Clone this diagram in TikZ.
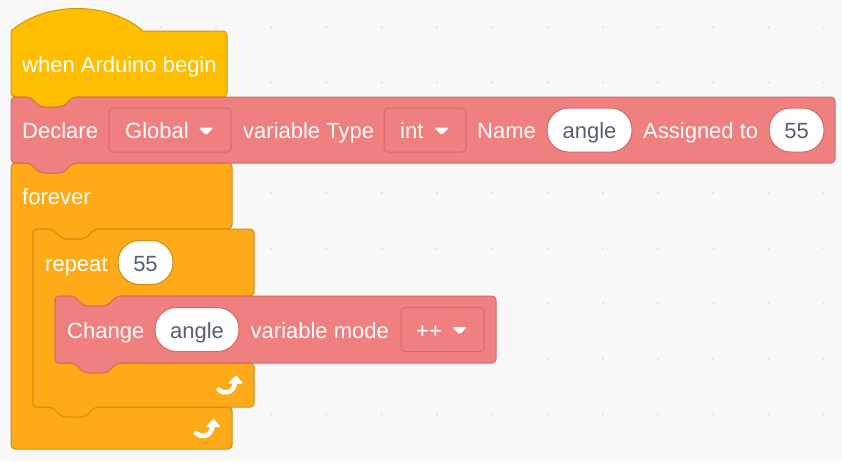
\documentclass[tikz,border=0pt]{standalone}
\usepackage{fontspec}
\setmainfont{Liberation Sans}
\definecolor{canvas}{HTML}{F9F9F9}
\definecolor{gridot}{HTML}{DADADA}
\definecolor{hatfill}{HTML}{FFBF00}
\definecolor{hatline}{HTML}{CC9900}
\definecolor{varfill}{HTML}{F08080}
\definecolor{varline}{HTML}{CC6B6B}
\definecolor{ctrlfill}{HTML}{FFAB19}
\definecolor{ctrlline}{HTML}{CF8B17}
\definecolor{valtext}{HTML}{575E75}
\newcommand{\blockfont}{\fontsize{22}{26}\selectfont}

\begin{document}
\begin{tikzpicture}[x=1pt,y=-1pt,line join=round,
    hatblk/.style={fill=hatfill,draw=hatline,line width=1pt},
    varblk/.style={fill=varfill,draw=varline,line width=1pt,rounded corners=4pt},
    ctrlblk/.style={fill=ctrlfill,draw=ctrlline,line width=1pt,rounded corners=4pt},
    lbl/.style={text=white,font=\blockfont,inner sep=0pt,anchor=west,text height=17pt,text depth=0pt},
    val/.style={fill=white,line width=1pt,rounded corners=21.5pt,minimum height=44pt,inner sep=0pt,text=valtext,font=\blockfont,text height=17pt,text depth=0pt},
    drop/.style={fill=varfill,draw=varline,line width=1pt,rounded corners=4pt,minimum height=44pt,inner sep=0pt},
    droptip/.style={fill=white,rounded corners=1.5pt},
    loopicon/.style={white,line width=4.5pt,line cap=round}]
	\fill[canvas] (0,0) rectangle (842,461);
	\useasboundingbox (0,0) rectangle (842,461);
	\foreach \i in {-4,...,10}
		\foreach \j in {0,...,7}
			\fill[gridot] (271.3+55.25*\i,27.3+55.25*\j) circle (1.1pt);
	% forever
	\draw[ctrlblk] (11,163) -- (30,163) -- (40,173) -- (63,173) -- (73,163) -- (232,163) -- (232,229) -- (95,229) -- (85,239) -- (62,239) -- (52,229) -- (33,229) -- (33,407) -- (232,407) -- (232,449) -- (11,449) -- cycle;
	% repeat
	\draw[ctrlblk] (33,229) -- (52,229) -- (62,239) -- (85,239) -- (95,229) -- (254,229) -- (254,296) -- (117,296) -- (107,306) -- (84,306) -- (74,296) -- (55,296) -- (55,363) -- (254,363) -- (254,407) -- (95,407) -- (85,417) -- (62,417) -- (52,407) -- (33,407) -- cycle;
	% change
	\draw[varblk] (55,296) -- (74,296) -- (84,306) -- (107,306) -- (117,296) -- (496,296) -- (496,363) -- (117,363) -- (107,373) -- (84,373) -- (74,363) -- (55,363) -- cycle;
	% hat
	\draw[hatblk] (11,64) -- (11,31) .. controls (45,1) and (109,1) .. (143,31) [rounded corners=4pt] -- (227,31) -- (227,97) -- (73,97) -- (63,107) -- (40,107) -- (30,97) -- (11,97) -- cycle;
	% declare
	\draw[varblk] (11,97) -- (30,97) -- (40,107) -- (63,107) -- (73,97) -- (835,97) -- (835,163) -- (73,163) -- (63,173) -- (40,173) -- (30,163) -- (11,163) -- cycle;
	% loop arrows
	\foreach \ax/\ay in {217/375,194.5/418.5}
	{
		\begin{scope}[shift={(\ax,\ay)}]
			\draw[loopicon] (1.5,14.5) .. controls (6,19.5) and (16,19) .. (18,8);
			\fill[white,rounded corners=1pt] (11,8.5) -- (19,0) -- (26,8.5) -- cycle;
		\end{scope}
	}
	% texts
	\node[lbl] (hattxt) at (22,64) {when Arduino begin};
	\node[lbl] (decltxt) at (22,130) {Declare};
	\node[drop,minimum width=122pt] (globdrop) at (170,130) {};
	\node[lbl] (globtxt) at (125,130) {Global};
	\fill[droptip] (198.5,127.5) -- (213.5,127.5) -- (206,135) -- cycle;
	\node[lbl] (typetxt) at (243,130) {variable Type};
	\node[drop,minimum width=82pt] (intdrop) at (425,130) {};
	\node[lbl] (inttxt) at (400,130) {int};
	\fill[droptip] (434,127.5) -- (449,127.5) -- (441.5,135) -- cycle;
	\node[lbl] (nametxt) at (477,130) {Name};
	\node[val,draw=varline,minimum width=85pt] (declname) at (589.5,130) {angle};
	\node[lbl] (assigntxt) at (643,130) {Assigned to};
	\node[val,draw=varline,minimum width=55pt] (declval) at (796.5,130) {55};
	\node[lbl] (forevertxt) at (22,196) {forever};
	\node[lbl] (repeattxt) at (45,262.5) {repeat};
	\node[val,draw=ctrlline,minimum width=55pt] (repeatval) at (145.5,262.5) {55};
	\node[lbl] (changetxt) at (67,329.5) {Change};
	\node[val,draw=varline,minimum width=84pt] (changename) at (197,329.5) {angle};
	\node[lbl] (modetxt) at (250.5,329.5) {variable mode};
	\node[drop,minimum width=83pt] (modedrop) at (442.5,329.5) {};
	\node[lbl] (modeval) at (416,329.5) {++};
	\fill[droptip] (452,327) -- (467,327) -- (459.5,334.5) -- cycle;
\end{tikzpicture}
\end{document}
